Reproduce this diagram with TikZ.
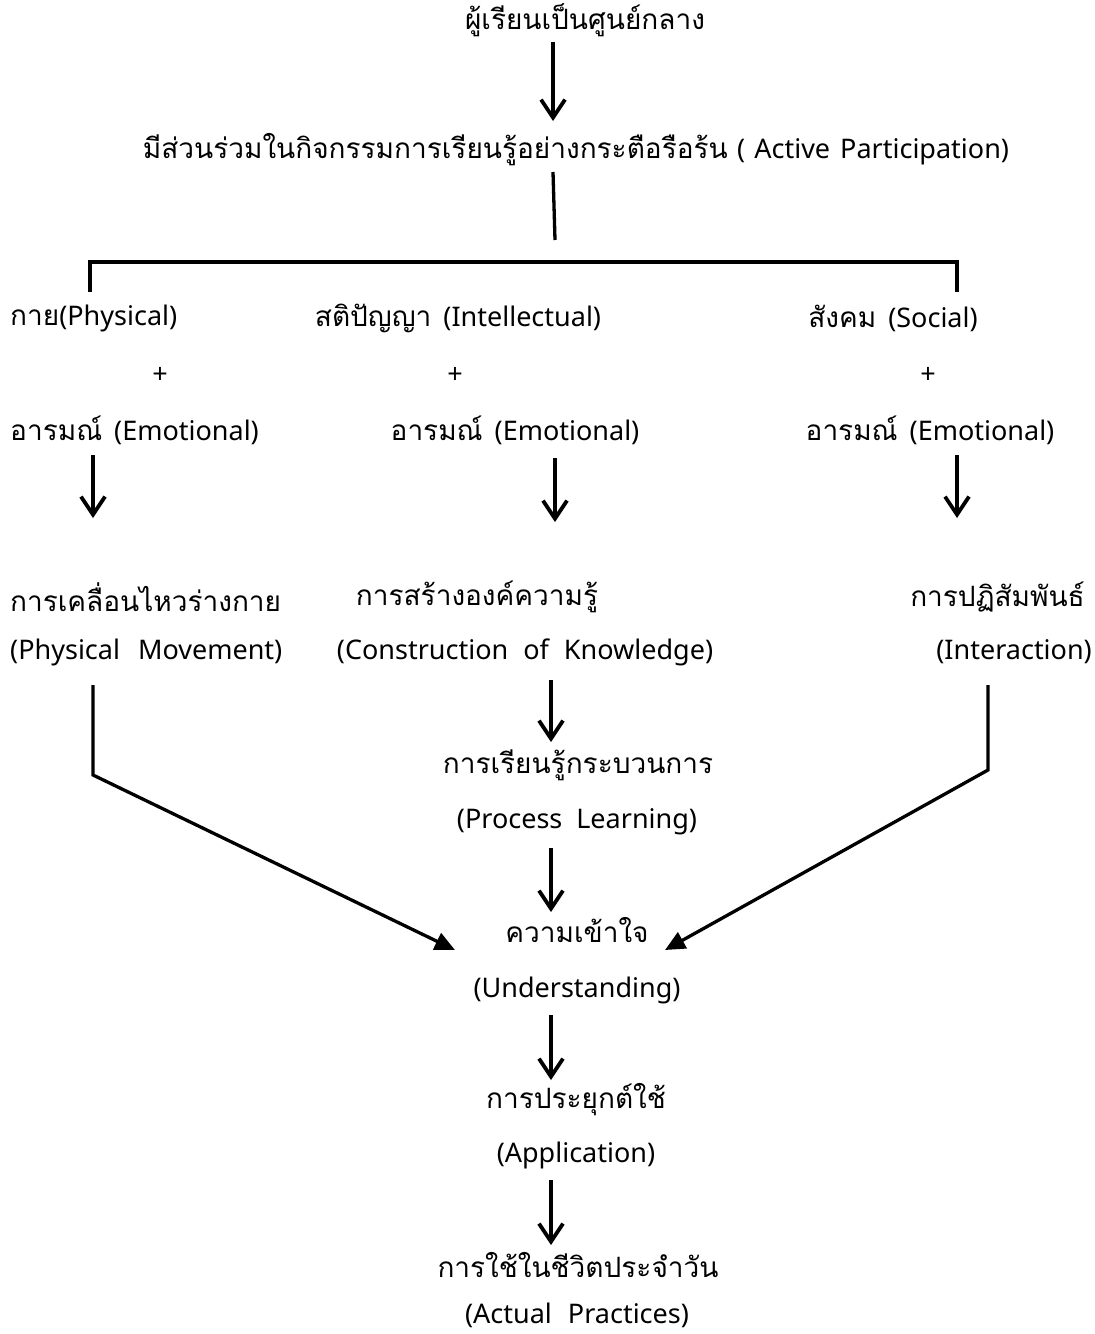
\documentclass[tikz,border=0pt]{standalone}
\usepackage{fontspec}
\setmainfont[Script=Thai]{Loma}
\newfontfamily\enfont{Noto Sans}
\newcommand{\en}[1]{{\enfont\fontsize{27}{32}\selectfont #1}}
\usetikzlibrary{arrows.meta}
\begin{document}
\begin{tikzpicture}[x=1pt,y=-1pt,
  txt/.style={font=\fontsize{28}{34}\selectfont, inner sep=0pt, anchor=center},
  varrow/.style={line width=3.8pt, -{Straight Barb[length=18pt,width=24pt,line width=3.8pt]}},
  tline/.style={line width=3.3pt},
  darrow/.style={line width=3.3pt, -{Triangle[length=20pt,width=18pt]}}]
\useasboundingbox (0,0) rectangle (1095,1334);
% texts
\node[txt] (t0) at (585,20) {ผู้เรียนเป็นศูนย์กลาง};
\node[txt] (t1) at (576,150) {มีส่วนร่วมในกิจกรรมการเรียนรู้อย่างกระตือรือร้น \en{(\hspace{9pt}Active\hspace{10pt}Participation)}};
\node[txt, anchor=west] (a1) at (10,318) {กาย\en{(Physical)}};
\node[txt] (b1) at (458,318) {สติปัญญา\hspace{12pt}\en{(Intellectual)}};
\node[txt] (c1) at (893,318) {สังคม\hspace{12pt}\en{(Social)}};
\node[txt] (a2) at (160,375) {\en{+}};
\node[txt] (b2) at (455,375) {\en{+}};
\node[txt] (c2) at (928,375) {\en{+}};
\node[txt, anchor=west] (a3) at (10,430) {อารมณ์\hspace{12pt}\en{(Emotional)}};
\node[txt] (b3) at (515,430) {อารมณ์\hspace{12pt}\en{(Emotional)}};
\node[txt] (c3) at (930,430) {อารมณ์\hspace{12pt}\en{(Emotional)}};
\node[txt, anchor=west] (a4) at (10,597) {การเคลื่อนไหวร่างกาย};
\node[txt] (b4) at (477,597) {การสร้างองค์ความรู้};
\node[txt, anchor=east] (c4) at (1085,597) {การปฏิสัมพันธ์};
\node[txt, anchor=west] (a5) at (10,652) {\en{(Physical\hspace{18pt}Movement)}};
\node[txt] (b5) at (525,652) {\en{(Construction\hspace{15pt}of\hspace{15pt}Knowledge)}};
\node[txt, anchor=east] (c5) at (1092,652) {\en{(Interaction)}};
\node[txt] (p1) at (578,765) {การเรียนรู้กระบวนการ};
\node[txt] (p2) at (577,822) {\en{(Process\hspace{14pt}Learning)}};
\node[txt] (u1) at (577,930) {ความเข้าใจ};
\node[txt] (u2) at (577,990) {\en{(Understanding)}};
\node[txt] (ap1) at (576,1100) {การประยุกต์ใช้};
\node[txt] (ap2) at (576,1155) {\en{(Application)}};
\node[txt] (r1) at (578,1265) {การใช้ในชีวิตประจำวัน};
\node[txt] (r2) at (577,1315) {\en{(Actual\hspace{16pt}Practices)}};
% coordinates
\coordinate (s0) at (553,42);   \coordinate (e0) at (553,121);
\coordinate (s1) at (553,172);  \coordinate (e1) at (555,240);
\coordinate (hl) at (90,292);   \coordinate (hr) at (957,292);
\coordinate (sa) at (93,455);   \coordinate (ea) at (93,518);
\coordinate (sb) at (555,458);  \coordinate (eb) at (555,522);
\coordinate (sc) at (957,455);  \coordinate (ec) at (957,518);
\coordinate (la) at (93,685);   \coordinate (lb) at (93,775);  \coordinate (lt) at (455,950);
\coordinate (ra) at (988,685);  \coordinate (rb) at (988,770); \coordinate (rt) at (665,950);
\coordinate (sp) at (551,680);  \coordinate (ep) at (551,742);
\coordinate (su) at (551,848);  \coordinate (eu) at (551,912);
\coordinate (sx) at (551,1015); \coordinate (ex) at (551,1080);
\coordinate (sr) at (551,1180); \coordinate (er) at (551,1245);
% connectors
\draw[varrow] (s0) -- (e0);
\draw[tline] (s1) -- (e1);
\draw[tline] (hl) |- (553,262) -| (hr);
\draw[varrow] (sa) -- (ea);
\draw[varrow] (sb) -- (eb);
\draw[varrow] (sc) -- (ec);
\draw[darrow] (la) -- (lb) -- (lt);
\draw[darrow] (ra) -- (rb) -- (rt);
\draw[varrow] (sp) -- (ep);
\draw[varrow] (su) -- (eu);
\draw[varrow] (sx) -- (ex);
\draw[varrow] (sr) -- (er);
\end{tikzpicture}
\end{document}
